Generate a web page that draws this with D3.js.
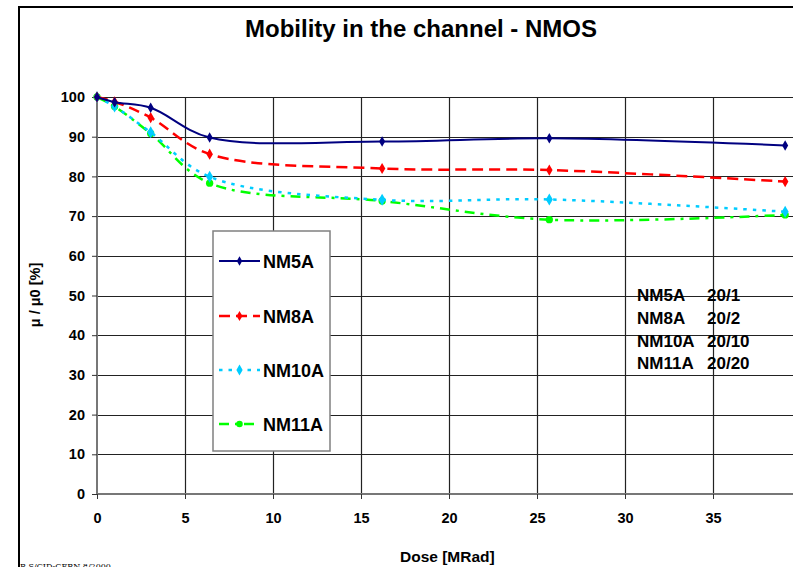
<!DOCTYPE html>
<html>
<head>
<meta charset="utf-8">
<script src="https://cdn.jsdelivr.net/npm/d3@7"></script>
<style>
  html, body { margin: 0; padding: 0; background: #fff; }
  svg { display: block; }
  text { font-family: Arial, "Liberation Sans", sans-serif; font-weight: bold; fill: #000; }
</style>
</head>
<body>
<svg id="chart" width="793" height="567"></svg>
<script>
// ---- data ----
const doses = [0, 1.0, 3.05, 6.4, 16.2, 25.7, 39.1];
const nm5a  = [100, 98.7, 97.3, 89.8, 88.8, 89.6, 87.8];
const nm8a  = [100, 98.8, 94.8, 85.6, 82.0, 81.6, 78.7];
const nm10a = [100, 97.6, 91.1, 79.9, 74.1, 74.2, 71.1];
const nm11a = [100, 97.6, 90.8, 78.3, 73.8, 69.1, 70.3];
const seriesNames = ["NM5A", "NM8A", "NM10A", "NM11A"];
const ratios = ["20/1", "20/2", "20/10", "20/20"];
const xTicks = [0, 5, 10, 15, 20, 25, 30, 35, 40];
const yTicks = [0, 10, 20, 30, 40, 50, 60, 70, 80, 90, 100];

const svg = d3.select("#chart");
const W = 793, H = 567;

// outer frame
svg.append("rect").attr("x", 19).attr("y", 7).attr("width", W).attr("height", H)
  .attr("fill", "#fff").attr("stroke", "#000").attr("stroke-width", 2);

const x = d3.scaleLinear().domain([0, 40]).range([97, 801]);
const y = d3.scaleLinear().domain([0, 100]).range([494, 97]);

// title
svg.append("text").attr("x", 421).attr("y", 37).attr("text-anchor", "middle")
  .style("font-family", "'Liberation Sans Narrow', Arial, sans-serif")
  .style("font-size", "24px").text("Mobility in the channel - NMOS");

// gridlines
const grid = svg.append("g");
grid.selectAll(".gy").data(yTicks.filter(d => d > 0)).join("line")
  .attr("x1", x(0)).attr("x2", W).attr("y1", d => Math.round(y(d)) + 0.5).attr("y2", d => Math.round(y(d)) + 0.5)
  .attr("stroke", "#222").attr("stroke-width", 1.2);
grid.selectAll(".gx").data(xTicks.filter(d => d > 0)).join("line")
  .attr("y1", y(100)).attr("y2", y(0)).attr("x1", d => Math.round(x(d)) + 0.5).attr("x2", d => Math.round(x(d)) + 0.5)
  .attr("stroke", "#222").attr("stroke-width", 1.2);

// axes
const yAxis = d3.axisLeft(y).tickValues(yTicks).tickSize(5).tickPadding(7).tickFormat(d3.format("d"));
const gy = svg.append("g").attr("transform", `translate(${x(0)},0)`).call(yAxis);
const xAxis = d3.axisBottom(x).tickValues(xTicks).tickSize(5).tickPadding(14).tickFormat(d3.format("d"));
const gx = svg.append("g").attr("transform", `translate(0,${y(0)})`).call(xAxis);
[gx, gy].forEach(g => {
  g.select(".domain").attr("stroke", "#777").attr("stroke-width", 2);
  g.selectAll(".tick line").attr("stroke", "#333");
  g.selectAll("text").style("font-size", "14.5px").style("font-family", "Arial, 'Liberation Sans', sans-serif").style("font-weight", "bold");
});
gy.select(".domain").attr("d", `M0,${y(0)}V${y(100)}`);
gx.select(".domain").attr("d", `M${x(0)},0H${W}`);

// axis titles
svg.append("text").attr("x", 400).attr("y", 562).style("font-size", "15.5px").text("Dose [MRad]");
svg.append("text").attr("transform", "translate(40,295) rotate(-90)").attr("text-anchor", "middle")
  .style("font-size", "14.5px").text("μ / μ0 [%]");

// series
const styles = [
  { color: "#000080", dash: null, width: 2, marker: "diamond", msize: 32 },
  { color: "#FF0000", dash: "11,6", width: 2.5, marker: "diamond", msize: 36 },
  { color: "#00CCFF", dash: "3.5,6", width: 2.5, marker: "diamond", msize: 42 },
  { color: "#00FF00", dash: "10,6,3,6", width: 2.5, marker: "circle", msize: 42 }
];
const allVals = [nm5a, nm8a, nm10a, nm11a];
const line = d3.line().x(d => x(d[0])).y(d => y(d[1])).curve(d3.curveCatmullRom.alpha(0.5));

const order = [3, 2, 1, 0];
order.forEach(i => {
  const pts = doses.map((d, k) => [d, allVals[i][k]]);
  const st = styles[i];
  svg.append("path").datum(pts).attr("d", line).attr("fill", "none")
    .attr("stroke", st.color).attr("stroke-width", st.width)
    .attr("stroke-dasharray", st.dash);
  const sym = d3.symbol().type(st.marker === "diamond" ? d3.symbolDiamond : d3.symbolCircle).size(st.msize);
  svg.append("g").selectAll("path").data(pts).join("path")
    .attr("transform", d => `translate(${x(d[0])},${y(d[1])})`)
    .attr("d", sym).attr("fill", st.color);
});

// legend
const lg = svg.append("g");
lg.append("rect").attr("x", 213).attr("y", 231).attr("width", 117).attr("height", 220)
  .attr("fill", "#fff").attr("stroke", "#808080").attr("stroke-width", 1.5);
const legY = [261, 316, 370, 424];
seriesNames.forEach((name, i) => {
  const st = styles[i];
  const ly = legY[i];
  lg.append("line").attr("x1", 219).attr("x2", 260).attr("y1", ly).attr("y2", ly)
    .attr("stroke", st.color).attr("stroke-width", st.width).attr("stroke-dasharray", st.dash);
  const sym = d3.symbol().type(st.marker === "diamond" ? d3.symbolDiamond : d3.symbolCircle).size(st.msize * 0.8);
  lg.append("path").attr("transform", `translate(239.5,${ly})`).attr("d", sym).attr("fill", st.color);
  lg.append("text").attr("x", 263).attr("y", ly + 6.5).style("font-size", "18px").text(name);
});

// right-side annotation
const noteY = [301, 324, 347, 369];
seriesNames.forEach((name, i) => {
  svg.append("text").attr("x", 637).attr("y", noteY[i]).style("font-size", "17px").text(name);
  svg.append("text").attr("x", 707).attr("y", noteY[i]).style("font-size", "17px").text(ratios[i]);
});

// footnote
svg.append("text").attr("x", 20).attr("y", 569)
  .style("font-family", "'DejaVu Serif', serif").style("font-weight", "normal").style("font-size", "8px")
  .text("R.S/CID-CERN  8/2000");
</script>
</body>
</html>
